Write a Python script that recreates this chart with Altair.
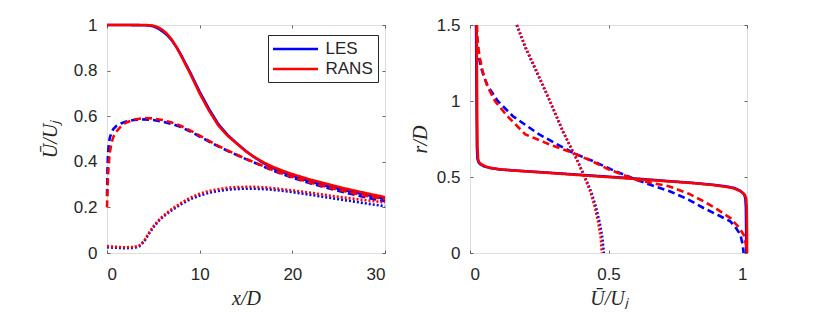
import altair as alt
import pandas as pd

# ---------------- left panel: profiles along x/D ----------------
xl_solid = [0, 2, 4, 4.5, 5, 5.5, 6, 6.5, 7, 7.5, 8, 9, 10, 11, 12, 13, 14, 15, 16, 17, 18, 19, 20, 22, 24, 26, 28, 30]
les_solid_left = [1.0, 1.0, 0.999, 0.998, 0.994, 0.985, 0.972, 0.955, 0.932, 0.903, 0.868, 0.79, 0.707, 0.632, 0.566,
                  0.518, 0.481, 0.447, 0.417, 0.392, 0.371, 0.354, 0.339, 0.313, 0.291, 0.272, 0.255, 0.238]
rans_solid_left = [1.0, 1.0, 1.0, 0.999, 0.997, 0.99, 0.978, 0.96, 0.935, 0.903, 0.865, 0.785, 0.70, 0.625, 0.56,
                   0.515, 0.48, 0.445, 0.418, 0.395, 0.376, 0.36, 0.346, 0.321, 0.30, 0.28, 0.262, 0.245]

xl_dash = [0, 0.05, 0.1, 0.2, 0.3, 0.5, 0.7, 1, 1.5, 2, 3, 4, 5, 6, 7, 8, 9, 10, 11, 12, 13, 14, 15, 16,
           18, 20, 22, 24, 26, 28, 30]
les_dash_left = [0.25, 0.36, 0.43, 0.48, 0.505, 0.53, 0.545, 0.557, 0.568, 0.576, 0.584, 0.586, 0.583, 0.576,
                 0.566, 0.552, 0.533, 0.511, 0.489, 0.468, 0.448, 0.43, 0.412, 0.395, 0.36, 0.33, 0.305, 0.283,
                 0.262, 0.243, 0.227]
rans_dash_left = [0.20, 0.27, 0.33, 0.40, 0.44, 0.485, 0.51, 0.532, 0.555, 0.571, 0.586, 0.592, 0.59, 0.583,
                  0.572, 0.557, 0.537, 0.515, 0.492, 0.47, 0.45, 0.431, 0.413, 0.396, 0.362, 0.333, 0.308, 0.287,
                  0.267, 0.25, 0.235]

xl_dot = [0, 1, 2, 3, 3.5, 4, 4.5, 5, 5.5, 6, 7, 8, 9, 10, 11, 12, 13, 14, 15, 16, 17, 18, 20, 22, 24, 26, 28, 30]
les_dot_left = [0.025, 0.023, 0.021, 0.023, 0.03, 0.05, 0.083, 0.112, 0.137, 0.157, 0.188, 0.214, 0.236, 0.252,
                0.264, 0.272, 0.278, 0.281, 0.282, 0.282, 0.28, 0.277, 0.267, 0.255, 0.242, 0.23, 0.217, 0.205]
rans_dot_left = [0.03, 0.027, 0.025, 0.027, 0.034, 0.053, 0.087, 0.116, 0.141, 0.161, 0.193, 0.22, 0.243, 0.26,
                 0.272, 0.28, 0.286, 0.289, 0.29, 0.29, 0.288, 0.284, 0.275, 0.264, 0.252, 0.241, 0.231, 0.222]

# ---------------- right panel: radial profiles r/D ----------------
r_solid = [1.5, 1.2, 0.9, 0.7, 0.62, 0.60, 0.585, 0.57, 0.56, 0.55, 0.541, 0.53, 0.519, 0.508, 0.497, 0.486,
           0.475, 0.462, 0.449, 0.438, 0.427, 0.41, 0.395, 0.383, 0.36, 0.3, 0.15, 0.0]
les_solid_right = [0.022, 0.023, 0.024, 0.025, 0.027, 0.03, 0.036, 0.05, 0.07, 0.105, 0.175, 0.27, 0.36, 0.45,
                   0.54, 0.625, 0.70, 0.80, 0.875, 0.925, 0.955, 0.975, 0.985, 0.99, 0.994, 0.996, 0.997, 0.997]
rans_solid_right = [0.024, 0.025, 0.026, 0.027, 0.029, 0.032, 0.04, 0.055, 0.075, 0.11, 0.17, 0.26, 0.345, 0.43,
                    0.52, 0.607, 0.69, 0.79, 0.87, 0.915, 0.95, 0.972, 0.985, 0.992, 0.997, 0.999, 1.0, 1.0]

r_dash_les = [1.5, 1.42, 1.35, 1.28, 1.22, 1.15, 1.1, 1.0, 0.9, 0.78, 0.7, 0.657, 0.6, 0.55, 0.482, 0.44, 0.405,
              0.35, 0.296, 0.25, 0.208, 0.16, 0.121, 0.06, 0.0]
les_dash_right = [0.022, 0.024, 0.028, 0.033, 0.04, 0.052, 0.064, 0.1, 0.155, 0.25, 0.33, 0.374, 0.45, 0.51, 0.6,
                  0.665, 0.723, 0.79, 0.843, 0.895, 0.94, 0.962, 0.976, 0.984, 0.988]
r_dash_rans = [1.5, 1.42, 1.35, 1.28, 1.2, 1.1, 1.0, 0.9, 0.78, 0.712, 0.657, 0.6, 0.55, 0.482, 0.438, 0.39,
               0.34, 0.29, 0.23, 0.17, 0.12, 0.06, 0.0]
rans_dash_right = [0.025, 0.027, 0.03, 0.036, 0.045, 0.062, 0.09, 0.135, 0.2, 0.29, 0.374, 0.445, 0.5, 0.6, 0.72,
                   0.79, 0.843, 0.89, 0.94, 0.97, 0.988, 0.996, 1.0]

r_dot = [1.5, 1.35, 1.2, 1.0, 0.8, 0.657, 0.6, 0.5, 0.4, 0.3, 0.2, 0.1, 0.0]
les_dot_right = [0.168, 0.2, 0.238, 0.288, 0.335, 0.374, 0.39, 0.415, 0.438, 0.455, 0.468, 0.478, 0.483]
rans_dot_right = [0.17, 0.202, 0.24, 0.289, 0.336, 0.374, 0.389, 0.413, 0.435, 0.451, 0.463, 0.472, 0.476]

models = ["LES", "RANS"]
colors = ["#0000ff", "#ff0000"]
kinds = ["solid", "dashed", "dotted"]
dash_patterns = [[1, 0], [7, 4], [2, 2]]

x_ticks_left = [0, 10, 20, 30]
y_ticks_left = [0, 0.2, 0.4, 0.6, 0.8, 1]
x_ticks_right = [0, 0.5, 1]
y_ticks_right = [0, 0.5, 1, 1.5]


def rows(xs, ys, model, kind):
    return [{"X": a, "Y": b, "model": model, "kind": kind, "idx": i}
            for i, (a, b) in enumerate(zip(xs, ys))]


left_les = pd.DataFrame(rows(xl_solid, les_solid_left, "LES", "solid")
                        + rows(xl_dash, les_dash_left, "LES", "dashed")
                        + rows(xl_dot, les_dot_left, "LES", "dotted"))
left_rans = pd.DataFrame(rows(xl_solid, rans_solid_left, "RANS", "solid")
                         + rows(xl_dash, rans_dash_left, "RANS", "dashed")
                         + rows(xl_dot, rans_dot_left, "RANS", "dotted"))
right_les = pd.DataFrame(rows(les_solid_right, r_solid, "LES", "solid")
                         + rows(les_dash_right, r_dash_les, "LES", "dashed")
                         + rows(les_dot_right, r_dot, "LES", "dotted"))
right_rans = pd.DataFrame(rows(rans_solid_right, r_solid, "RANS", "solid")
                          + rows(rans_dash_right, r_dash_rans, "RANS", "dashed")
                          + rows(rans_dot_right, r_dot, "RANS", "dotted"))

TXT = "#262626"
axis_style = dict(
    labelFont="Liberation Sans", labelFontSize=17, labelColor=TXT,
    titleFont="Liberation Serif", titleFontStyle="italic", titleFontWeight="normal",
    titleFontSize=20, titleColor=TXT,
    domain=False, grid=False, ticks=True, tickColor=TXT, tickWidth=0.7,
    tickSize=3, offset=-3, labelExpr="datum.value + ''",
)


def panel(df_les, df_rans, xdom, ydom, xt, yt, xtitle, ytitle, w, h, legend, ytp):
    xs = alt.Scale(domain=xdom, nice=False, zero=False)
    ys = alt.Scale(domain=ydom, nice=False, zero=False)
    color = alt.Color("model:N", scale=alt.Scale(domain=models, range=colors), legend=legend)
    dash = alt.StrokeDash("kind:N", scale=alt.Scale(domain=kinds, range=dash_patterns), legend=None)
    x_main = alt.X("X:Q", scale=xs, axis=alt.Axis(values=xt, title=xtitle, orient="bottom",
                                                 labelPadding=13, titlePadding=6, **axis_style))
    y_main = alt.Y("Y:Q", scale=ys, axis=alt.Axis(values=yt, title=ytitle, orient="left",
                                                 labelPadding=10, titlePadding=ytp, **axis_style))
    x_top = alt.X("X:Q", scale=xs, axis=alt.Axis(values=xt, title=None, orient="top", labels=False,
                                                 **axis_style))
    y_right = alt.Y("Y:Q", scale=ys, axis=alt.Axis(values=yt, title=None, orient="right", labels=False,
                                                  **axis_style))
    line = dict(strokeWidth=2.6, strokeCap="butt", clip=False)
    les = alt.Chart(df_les).mark_line(**line).encode(
        x=x_main, y=y_main, color=color, strokeDash=dash, order=alt.Order("idx:Q"))
    rans = alt.Chart(df_rans).mark_line(**line).encode(
        x=alt.X("X:Q", scale=xs, axis=None), y=alt.Y("Y:Q", scale=ys, axis=None),
        color=color, strokeDash=dash, order=alt.Order("idx:Q"))
    frame = alt.Chart(df_les).mark_line(opacity=0).encode(x=x_top, y=y_right, detail="kind:N",
                                                          order=alt.Order("idx:Q"))
    return alt.layer(les, rans, frame).properties(width=w, height=h)


legend = alt.Legend(
    orient="none", legendX=161, legendY=10, title=None,
    symbolType="M-3,0H3", symbolSize=225, symbolOffset=13.5, symbolStrokeWidth=2.6,
    labelFont="Liberation Sans", labelFontSize=17, labelColor=TXT, labelOffset=21, labelAlign="left",
    fillColor="white", strokeColor=TXT, padding=5, rowPadding=3,
)

left = panel(left_les, left_rans, [0, 30], [0, 1], x_ticks_left, y_ticks_left,
             "x/D", "Ū/Uⱼ", 278, 228, legend, 13)
right = panel(right_les, right_rans, [0, 1], [0, 1.5], x_ticks_right, y_ticks_right,
              "Ū/Uⱼ", "r/D", 277, 228, None, 6)

chart = alt.hconcat(left, right, spacing=18).resolve_scale(color="independent").properties(
    padding={"left": 31, "top": 7, "right": 5, "bottom": 0}
).configure_view(stroke="#808080", strokeWidth=1).configure(background="white")

chart.save("out.html", embed_options={"renderer": "svg", "actions": False})
